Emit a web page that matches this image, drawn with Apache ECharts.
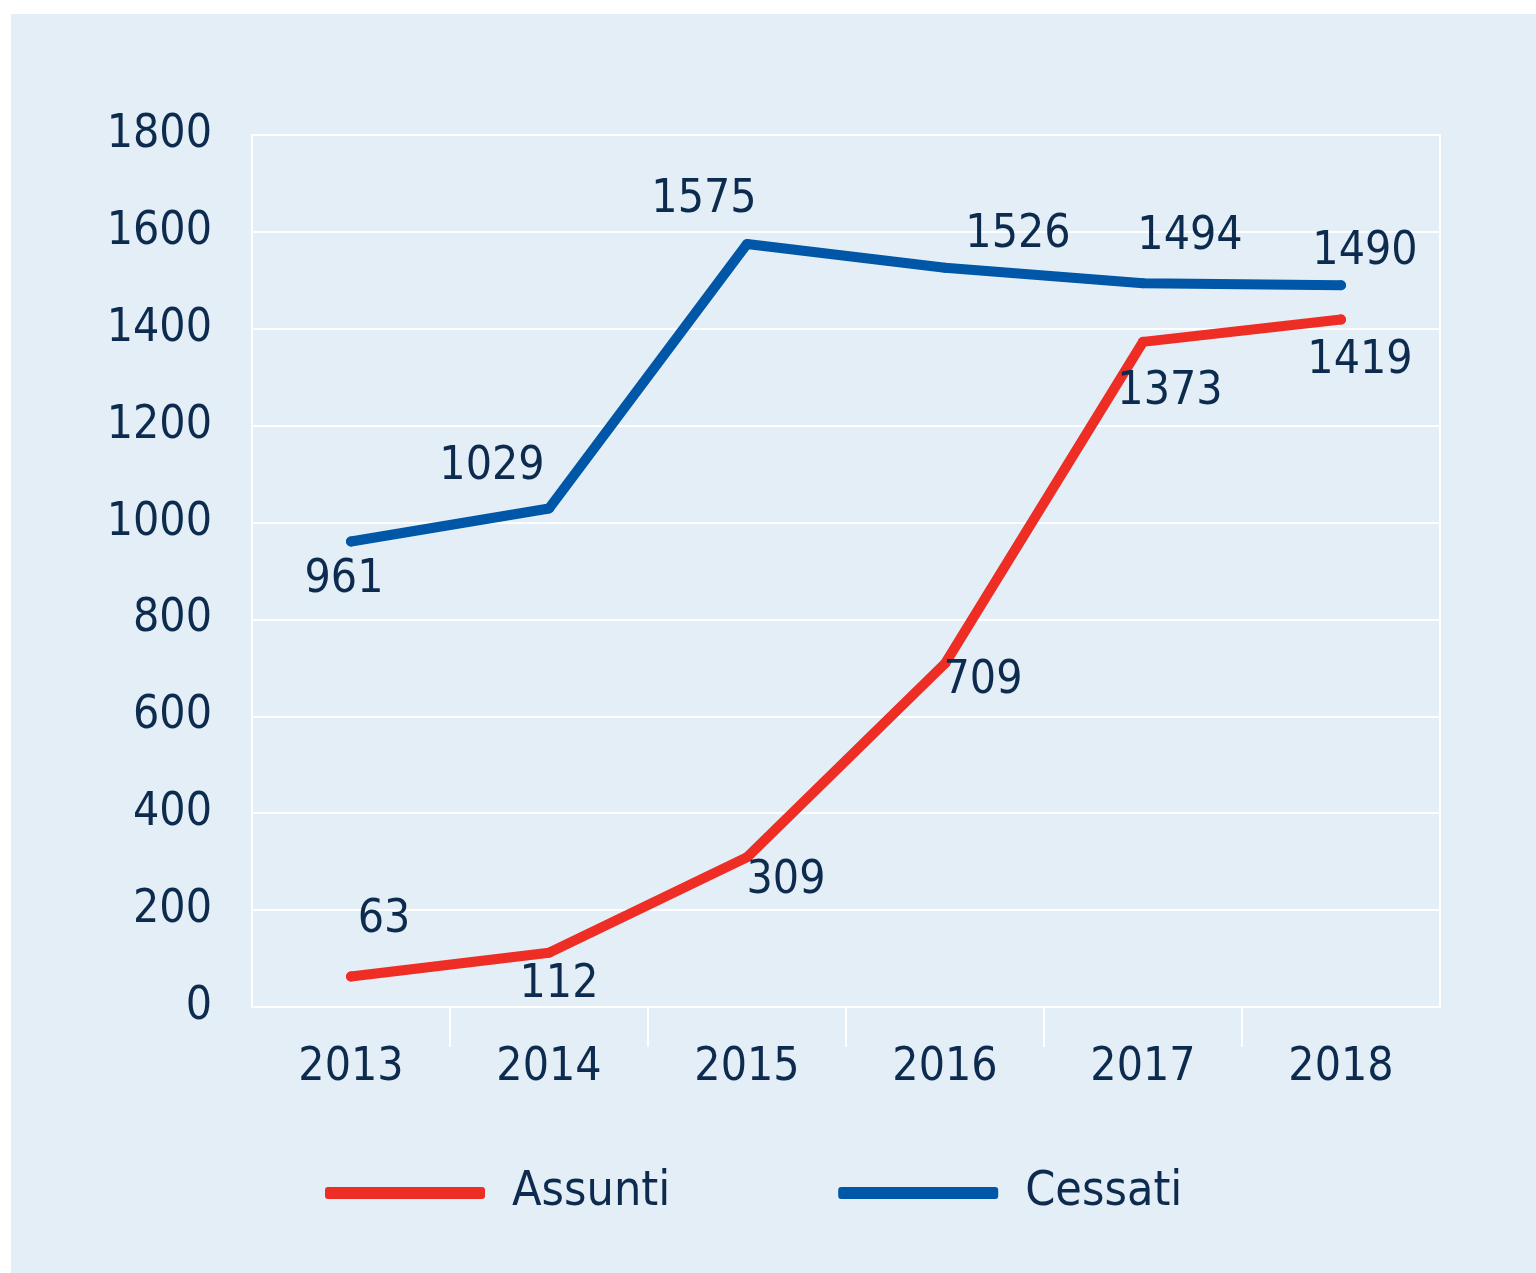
<!DOCTYPE html>
<html>
<head>
<meta charset="utf-8">
<script src="https://cdn.jsdelivr.net/npm/echarts@6/dist/echarts.min.js"></script>
<style>
  html, body { margin: 0; padding: 0; background: #fff; }
  #chart { width: 1536px; height: 1273px; }
</style>
</head>
<body>
<div id="chart"></div>
<script>
const years = ['2013', '2014', '2015', '2016', '2017', '2018']
const assunti = [63, 112, 309, 709, 1373, 1419]
const cessati = [961, 1029, 1575, 1526, 1494, 1490]

// label offsets (px) from each point, as placed in the original
const assuntiOffsets = [[33, -56], [10, 32], [39, 24], [38, 18], [27, 50], [19, 41]]
const cessatiOffsets = [[-7, 39], [-57, -41], [-43, -44], [73, -33], [47, -46], [24, -33]]

const font = '"Liberation Sans Narrow", "DejaVu Sans Condensed", "Roboto", sans-serif'
const ink = '#0c2b4e'

function withLabels(values, offsets) {
  return values.map((v, i) => ({
    value: v,
    label: { offset: offsets[i] }
  }))
}

const chart = echarts.init(document.getElementById('chart'))

const seriesBase = {
  type: 'line',
  symbol: 'circle',
  symbolSize: 10,
  emphasis: { disabled: true },
  silent: true,
  label: {
    show: true,
    position: 'inside',
    align: 'center',
    verticalAlign: 'middle',
    color: ink,
    fontFamily: font,
    fontSize: 46
  }
}

// plot area: x 252..1440, y 135..1007; one category band = 198px
const plotLeft = 252
const plotRight = 96
const band = (1536 - plotLeft - plotRight) / years.length

chart.setOption({
  backgroundColor: '#fff',
  animation: false,
  graphic: [{
    type: 'rect',
    z: -10,
    shape: { x: 11, y: 14, width: 1525, height: 1259 },
    style: { fill: '#e3eef7' }
  }],
  grid: [
    {
      left: plotLeft,
      right: plotRight,
      top: 135,
      bottom: 266,
      show: true,
      borderColor: '#fff',
      borderWidth: 2
    },
    // strip under the axis, used only for the ticks between the years
    {
      left: plotLeft + band,
      right: plotRight + band,
      top: 1007,
      height: 40
    }
  ],
  legend: {
    left: 320,
    top: 1164,
    itemWidth: 160,
    itemHeight: 12,
    itemGap: 168,
    icon: 'roundRect',
    textStyle: {
      color: ink,
      fontFamily: font,
      fontSize: 48,
      padding: [0, 0, 0, 22]
    },
    data: ['Assunti', 'Cessati']
  },
  xAxis: [
    {
      type: 'category',
      data: years,
      axisLine: { lineStyle: { color: '#fff', width: 2 } },
      axisTick: { show: false },
      axisLabel: {
        color: ink,
        fontFamily: font,
        fontSize: 46,
        margin: 38
      }
    },
    {
      gridIndex: 1,
      type: 'value',
      min: 0,
      max: years.length - 2,
      interval: 1,
      axisLine: { show: false },
      axisTick: { show: false },
      axisLabel: { show: false },
      splitLine: { show: true, lineStyle: { color: '#fff', width: 2 } }
    }
  ],
  yAxis: [
    {
      type: 'value',
      min: 0,
      max: 1800,
      interval: 200,
      axisLine: { show: false },
      axisTick: { show: false },
      splitLine: { lineStyle: { color: '#fff', width: 2 } },
      axisLabel: {
        color: ink,
        fontFamily: font,
        fontSize: 46,
        margin: 40,
        formatter: (v) => String(v)
      }
    },
    {
      gridIndex: 1,
      type: 'value',
      show: false
    }
  ],
  series: [
    Object.assign({}, seriesBase, {
      name: 'Assunti',
      itemStyle: { color: '#ee2d24' },
      lineStyle: { color: '#ee2d24', width: 10, cap: 'round' },
      data: withLabels(assunti, assuntiOffsets)
    }),
    Object.assign({}, seriesBase, {
      name: 'Cessati',
      itemStyle: { color: '#0056a7' },
      lineStyle: { color: '#0056a7', width: 10, cap: 'round' },
      data: withLabels(cessati, cessatiOffsets)
    })
  ]
})
</script>
</body>
</html>
